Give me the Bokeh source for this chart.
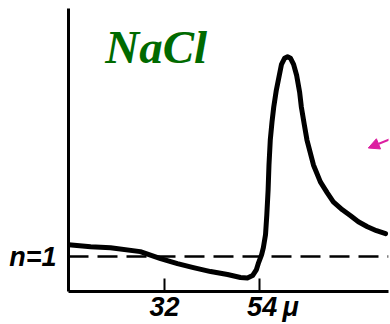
from bokeh.plotting import figure
from bokeh.models import FixedTicker, Span, Label, Arrow, NormalHead
from bokeh.embed import file_html
from bokeh.resources import INLINE

# wavelength (micron) and refractive index n (arbitrary scale, n=1 reference)
wavelength = [9.8, 14.9, 19.5, 26.4, 31.1, 35.0, 38.7, 42.7, 46.6, 49.6, 51.2, 52.4,
              53.3, 53.8, 54.5, 54.9, 55.4, 55.7, 56.0, 56.2, 56.5, 56.9, 57.3, 57.9,
              58.5, 59.1, 59.8, 60.5, 61.2, 61.9, 62.6, 63.3, 63.7, 64.4, 65.0, 66.5,
              68.1, 69.7, 71.1, 73.2, 75.1, 76.9, 79.0, 81.1, 83.2]
n_index = [1.12, 1.10, 1.09, 1.05, 0.98, 0.93, 0.89, 0.85, 0.82, 0.79, 0.785, 0.81,
           0.87, 0.94, 1.02, 1.09, 1.22, 1.42, 1.67, 1.92, 2.17, 2.35, 2.50, 2.67,
           2.80, 2.93, 2.99, 3.005, 2.99, 2.93, 2.82, 2.65, 2.50, 2.32, 2.17, 1.92,
           1.75, 1.64, 1.55, 1.47, 1.41, 1.35, 1.30, 1.26, 1.23]
n_ref = 1.0
x_ticks = [32, 54]
x_tick_labels = {32: "32", 54: "\u200354\u2009\u03bc"}
y_ticks = [1]
y_tick_labels = {1: "n=1"}
title_text = "NaCl"

LBL_FONT = "Liberation Sans"

p = figure(width=390, height=324, output_backend="svg", toolbar_location=None,
           x_range=(9.77, 83.88), y_range=(0.65, 3.49),
           min_border_left=68, min_border_right=2, min_border_top=8, min_border_bottom=32)
p.outline_line_color = None
p.grid.visible = False
p.background_fill_color = "white"
p.border_fill_color = "white"

for ax in (p.xaxis[0], p.yaxis[0]):
    ax.axis_line_width = 3
    ax.axis_line_color = "black"
    ax.major_tick_out = 0
    ax.minor_tick_out = 0
    ax.minor_tick_in = 0
    ax.major_label_text_font = LBL_FONT
    ax.major_label_text_font_style = "bold italic"
    ax.major_label_text_color = "black"
    ax.major_label_text_font_size = "27px"

p.xaxis.ticker = FixedTicker(ticks=x_ticks)
p.xaxis.major_label_overrides = x_tick_labels
p.xaxis.major_tick_in = 13
p.xaxis.major_tick_line_width = 2
p.xaxis.major_label_standoff = 0

p.yaxis.ticker = FixedTicker(ticks=y_ticks)
p.yaxis.major_label_overrides = y_tick_labels
p.yaxis.major_tick_in = 0
p.yaxis.major_label_standoff = 12

p.add_layout(Span(location=n_ref, dimension="width", line_color="black",
                  line_width=2.5, line_dash="20 9"))

p.line(wavelength, n_index, line_color="black", line_width=5,
       line_join="round", line_cap="round")

p.add_layout(Label(x=18.3, y=3.10, text=title_text, text_font="Liberation Serif",
                   text_font_style="bold italic", text_font_size="47px",
                   text_color="#006a00", text_baseline="alphabetic"))

p.add_layout(Arrow(end=NormalHead(size=11, fill_color="#dc1ea0", line_color="#dc1ea0"),
                   x_start=84.3, y_start=2.18, x_end=79.2, y_end=2.09,
                   line_color="#dc1ea0", line_width=2))

open("out.html", "w").write(file_html(p, INLINE))
